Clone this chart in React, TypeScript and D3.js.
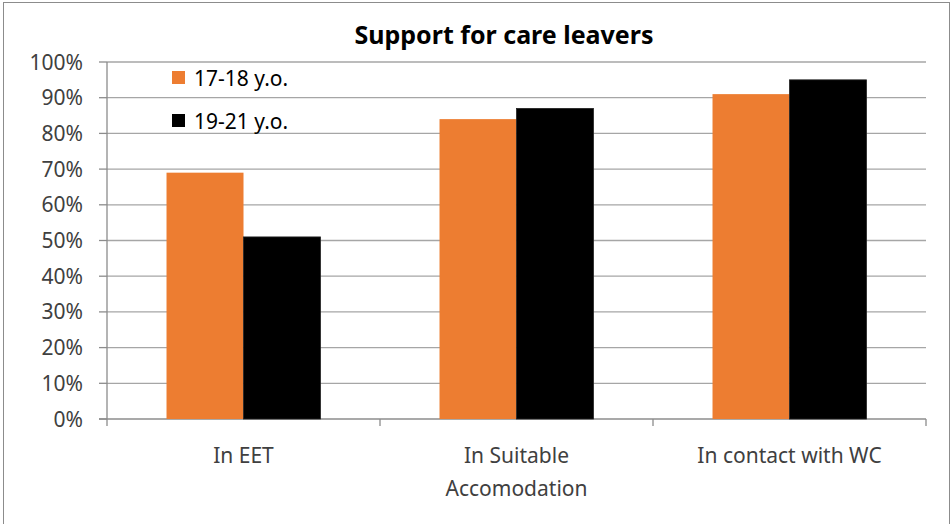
import React from "react";
import * as d3 from "d3";

const categories = ["In EET", "In Suitable|Accomodation", "In contact with WC"];
const seriesNames = ["17-18 y.o.", "19-21 y.o."];
const series1 = [0.69, 0.84, 0.91];
const series2 = [0.51, 0.87, 0.95];
const yTicks = [0, 0.1, 0.2, 0.3, 0.4, 0.5, 0.6, 0.7, 0.8, 0.9, 1.0];
const colors = ["#ED7D31", "#000000"];

const W = 952;
const H = 524;
const left = 107;
const right = 926;
const top = 62;
const bottom = 419;
const font = "'Noto Sans', 'Open Sans', sans-serif";

export default function App() {
  const x = d3.scaleBand<string>().domain(categories).range([left, right]).paddingInner(0).paddingOuter(0);
  const y = d3.scaleLinear().domain([0, 1]).range([bottom, top]);
  const bw = x.bandwidth();
  const barW = bw * 0.282;
  const fmt = d3.format(".0%");
  const data = [series1, series2];
  return (
    <svg width={W} height={H} style={{ position: "absolute", left: 0, top: 0 }}>
      <rect x={0} y={0} width={W} height={H} fill="#fff" />
      <rect x={3.5} y={2.5} width={W - 6} height={H + 10} fill="none" stroke="#8c8c8c" strokeWidth={1} />
      <text x={504} y={44} textAnchor="middle" fontFamily={font} fontWeight="bold" fontSize={25} fill="#000">
        Support for care leavers
      </text>
      {yTicks.map((t) => (
        <g key={t}>
          <line x1={t === 0 ? 99 : left} x2={right} y1={y(t)} y2={y(t)} stroke={t === 0 ? "#8c8c8c" : "#a6a6a6"} strokeWidth={1.3} />
          <line x1={99} x2={left} y1={y(t)} y2={y(t)} stroke="#8c8c8c" strokeWidth={1.3} />
          <text x={83} y={y(t) + 7.5} textAnchor="end" fontFamily={font} fontSize={21} fill="#404040">
            {fmt(t)}
          </text>
        </g>
      ))}
      <line x1={left} x2={left} y1={top} y2={bottom} stroke="#8c8c8c" strokeWidth={1.3} />
      {categories.map((c, i) => (
        <line key={"tk" + i} x1={(x(c) as number) + bw} x2={(x(c) as number) + bw} y1={bottom} y2={bottom + 7} stroke="#8c8c8c" strokeWidth={1.3} />
      ))}
      <line x1={left} x2={left} y1={bottom} y2={bottom + 7} stroke="#8c8c8c" strokeWidth={1.3} />
      {data.map((s, si) =>
        s.map((v, i) => {
          const cx = (x(categories[i]) as number) + bw / 2;
          const bx = si === 0 ? cx - barW : cx;
          return (
            <rect key={si + "-" + i} x={bx} y={y(v)} width={barW} height={bottom - y(v)} fill={colors[si]} stroke={si === 1 ? "#222" : "none"} strokeWidth={0.8} />
          );
        })
      )}
      {categories.map((c, i) => {
        const lines = c.split("|");
        const cx = (x(c) as number) + bw / 2;
        return (
          <text key={"cl" + i} textAnchor="middle" fontFamily={font} fontSize={21} fill="#404040">
            {lines.map((l, li) => (
              <tspan key={li} x={cx} y={463 + li * 33}>
                {l}
              </tspan>
            ))}
          </text>
        );
      })}
      {seriesNames.map((n, i) => (
        <g key={n}>
          <rect x={172} y={71 + i * 43} width={13} height={13} fill={colors[i]} />
          <text x={194} y={86 + i * 43} fontFamily={font} fontSize={21} fill="#000">
            {n}
          </text>
        </g>
      ))}
    </svg>
  );
}
